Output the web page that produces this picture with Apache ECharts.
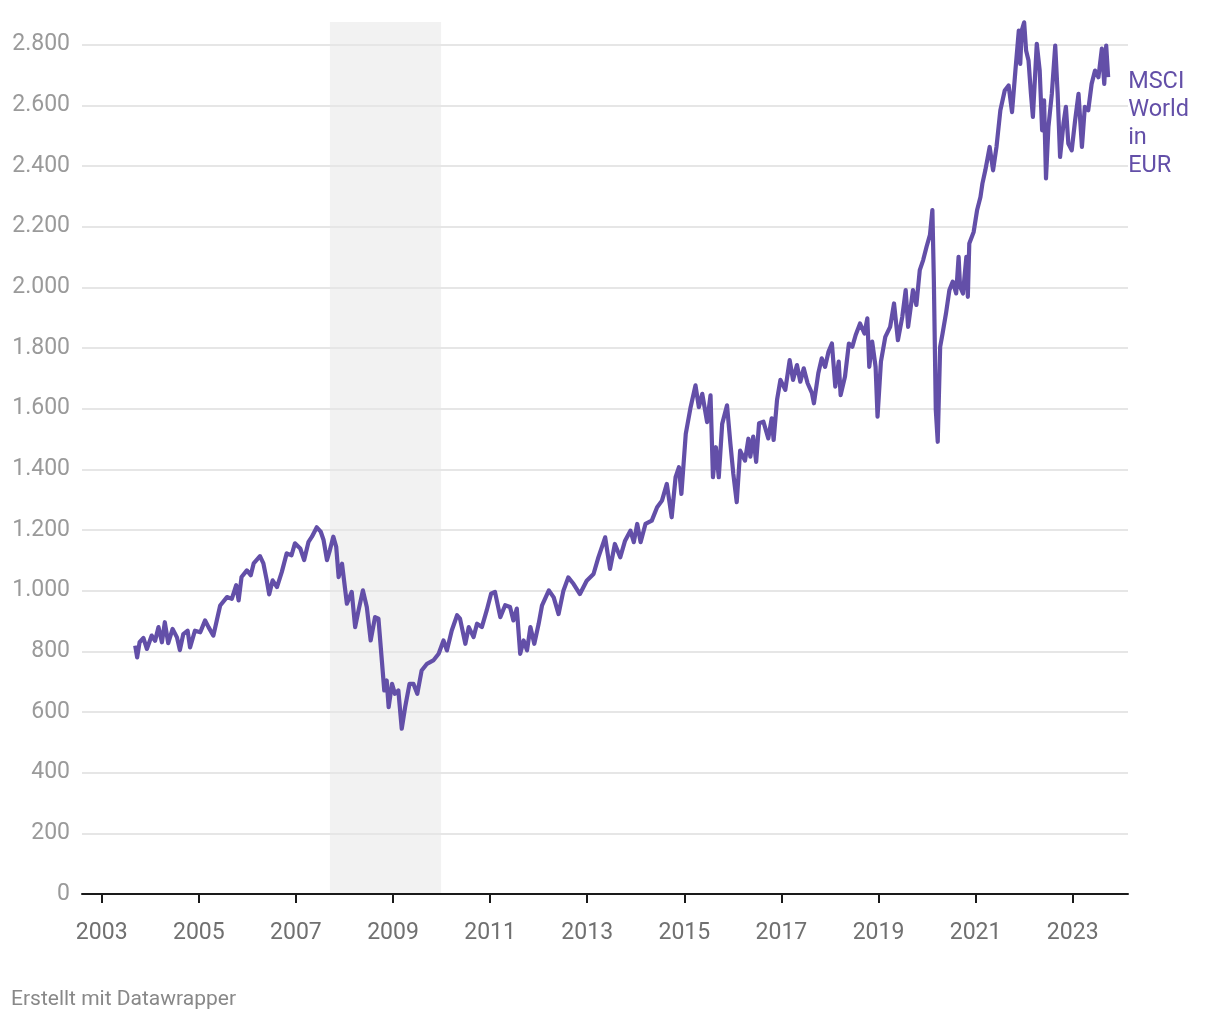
<!DOCTYPE html>
<html>
<head>
<meta charset="utf-8">
<script src="https://cdn.jsdelivr.net/npm/echarts@6/dist/echarts.min.js"></script>
<style>
html,body{margin:0;padding:0;background:#fff;}
#chart{width:1220px;height:1020px;}
</style>
</head>
<body>
<div id="chart"></div>
<script>
// Time in decimal years, values of MSCI World in EUR
const years = [
2003.69,2003.73,2003.78,2003.86,2003.93,2004.03,2004.10,2004.17,2004.24,2004.30,2004.37,2004.46,2004.55,2004.61,2004.68,2004.77,2004.82,2004.92,
2005.03,2005.13,2005.20,2005.30,2005.37,2005.44,2005.58,2005.68,2005.77,2005.82,2005.88,2005.99,
2006.07,2006.13,2006.26,2006.33,2006.40,2006.45,2006.52,2006.61,2006.71,2006.81,2006.91,2006.98,
2007.09,2007.17,2007.26,2007.33,2007.43,2007.51,2007.57,2007.64,2007.70,2007.77,2007.83,2007.88,2007.95,
2008.05,2008.15,2008.22,2008.29,2008.38,2008.46,2008.54,2008.63,2008.70,2008.77,2008.82,2008.87,2008.91,2008.98,
2009.04,2009.11,2009.18,2009.25,2009.34,2009.42,2009.50,2009.59,2009.70,2009.83,2009.94,
2010.04,2010.11,2010.21,2010.32,2010.38,2010.49,2010.56,2010.66,2010.73,2010.83,2010.93,
2011.02,2011.10,2011.21,2011.31,2011.41,2011.48,2011.55,2011.62,2011.69,2011.76,2011.83,2011.91,
2012.00,2012.07,2012.21,2012.31,2012.41,2012.51,2012.61,2012.72,2012.85,2012.99,
2013.13,2013.23,2013.37,2013.47,2013.57,2013.68,2013.78,2013.89,2013.96,
2014.03,2014.10,2014.20,2014.33,2014.44,2014.54,2014.64,2014.74,2014.82,2014.89,2014.94,
2015.03,2015.13,2015.23,2015.30,2015.37,2015.47,2015.54,2015.59,2015.65,2015.71,2015.78,2015.88,2015.95,
2016.01,2016.08,2016.15,2016.25,2016.32,2016.36,2016.42,2016.48,2016.54,2016.63,2016.73,2016.80,2016.84,2016.91,2016.98,
2017.08,2017.17,2017.24,2017.32,2017.39,2017.46,2017.54,2017.63,2017.67,2017.76,2017.83,2017.90,2017.97,
2018.04,2018.11,2018.18,2018.22,2018.31,2018.39,2018.46,2018.53,2018.62,2018.71,2018.77,2018.81,2018.87,2018.94,2018.98,
2019.05,2019.14,2019.24,2019.32,2019.40,2019.49,2019.56,2019.61,2019.71,2019.78,2019.85,2019.92,2019.99,
2020.06,2020.11,2020.14,2020.18,2020.22,2020.27,2020.32,2020.39,2020.46,2020.53,2020.60,2020.65,2020.68,2020.74,2020.81,2020.84,2020.87,2020.96,
2021.03,2021.10,2021.14,2021.20,2021.29,2021.36,2021.43,2021.51,2021.60,2021.68,2021.75,2021.82,2021.89,2021.92,2021.95,
2022.00,2022.04,2022.09,2022.14,2022.18,2022.26,2022.32,2022.37,2022.41,2022.45,2022.50,2022.57,2022.64,2022.69,2022.74,2022.81,2022.86,2022.91,2022.98,
2023.05,2023.12,2023.19,2023.25,2023.32,2023.39,2023.46,2023.53,2023.60,2023.65,2023.69,2023.73
];
const values = [
819,780,830,844,808,852,835,880,830,896,827,874,846,804,857,868,813,868,
863,902,880,852,902,951,979,973,1018,968,1045,1067,
1051,1090,1114,1090,1034,988,1034,1012,1062,1123,1117,1156,
1139,1101,1161,1178,1209,1195,1167,1101,1134,1178,1145,1045,1089,
957,996,880,935,1001,946,836,913,908,770,671,704,616,693,
660,671,545,616,693,693,660,737,759,770,792,
836,803,869,919,908,825,880,847,891,880,935,
990,996,913,952,946,902,941,792,836,803,880,825,
891,952,1001,978,923,1000,1044,1022,989,1033,
1055,1110,1176,1072,1154,1110,1165,1198,1160,
1220,1160,1220,1231,1275,1297,1352,1242,1374,1407,1319,
1517,1605,1677,1605,1649,1556,1644,1374,1473,1374,1550,1611,1484,
1385,1292,1462,1429,1501,1442,1508,1425,1552,1557,1502,1568,1497,1629,1695,
1662,1760,1695,1744,1689,1733,1684,1651,1618,1717,1766,1738,1788,
1815,1673,1755,1645,1706,1815,1804,1843,1881,1848,1898,1738,1821,1738,1574,
1755,1837,1870,1947,1826,1903,1991,1870,1991,1942,2057,2090,2134,
2173,2255,2024,1596,1491,1804,1848,1914,1991,2019,1980,2101,2002,1980,2101,1969,2145,2183,
2254,2298,2342,2386,2463,2386,2463,2584,2649,2666,2578,2715,2847,2737,2847,
2874,2781,2748,2638,2562,2803,2715,2518,2617,2359,2529,2638,2797,2638,2430,2540,2595,2474,2452,
2551,2638,2463,2595,2584,2671,2715,2693,2787,2671,2797,2693
];
const xTickYears = [2003,2005,2007,2009,2011,2013,2015,2017,2019,2021,2023];
const shadedPeriod = [2007.70, 2009.99];
const seriesName = 'MSCI World in EUR';
const endLabelText = 'MSCI\nWorld\nin\nEUR';
const footerText = 'Erstellt mit Datawrapper';

const LINE = '#634fa8';
const fmt = v => String(v).replace(/\B(?=(\d{3})+(?!\d))/g, '.');

const chart = echarts.init(document.getElementById('chart'), null, {renderer: 'canvas'});
chart.setOption({
  animation: false,
  backgroundColor: '#ffffff',
  textStyle: {fontFamily: 'Roboto'},
  title: {
    text: footerText, left: 6, top: 984,
    textStyle: {fontFamily: 'Roboto', fontSize: 21, fontWeight: 'normal', color: '#888888'}
  },
  grid: {left: 82, right: 92, top: 22, bottom: 126},
  xAxis: {
    type: 'value', min: 2002.594, max: 2024.139,
    splitLine: {show: false},
    axisLine: {show: true, onZero: false, lineStyle: {color: '#1a1a1a', width: 2}},
    axisTick: {show: true, length: 9, customValues: xTickYears, lineStyle: {color: '#1a1a1a', width: 2}},
    axisLabel: {customValues: xTickYears, margin: 28, fontSize: 23, color: '#707070', fontFamily: 'Roboto', formatter: v => String(v)}
  },
  yAxis: {
    type: 'value', min: 0, max: 2875, interval: 200,
    axisLine: {show: false}, axisTick: {show: false},
    axisLabel: {fontSize: 23, color: '#9a9a9a', margin: 12, fontFamily: 'Roboto', showMaxLabel: false, formatter: v => fmt(v)},
    splitLine: {show: true, showMaxLine: false, lineStyle: {color: '#e6e6e6', width: 2}}
  },
  series: [{
    name: seriesName,
    type: 'line',
    data: years.map((y, i) => [y, values[i]]),
    showSymbol: false,
    symbol: 'none',
    clip: false,
    lineStyle: {color: LINE, width: 4.2, join: 'round'},
    itemStyle: {color: LINE},
    z: 3,
    endLabel: {
      show: true, formatter: endLabelText, color: LINE, fontSize: 23.5, lineHeight: 28,
      fontFamily: 'Roboto', align: 'left', verticalAlign: 'top', distance: 20, offset: [0, -9]
    },
    markArea: {
      silent: true, z: -1,
      itemStyle: {color: '#f2f2f2'},
      data: [[{xAxis: shadedPeriod[0]}, {xAxis: shadedPeriod[1]}]]
    }
  }]
});
</script>
</body>
</html>
